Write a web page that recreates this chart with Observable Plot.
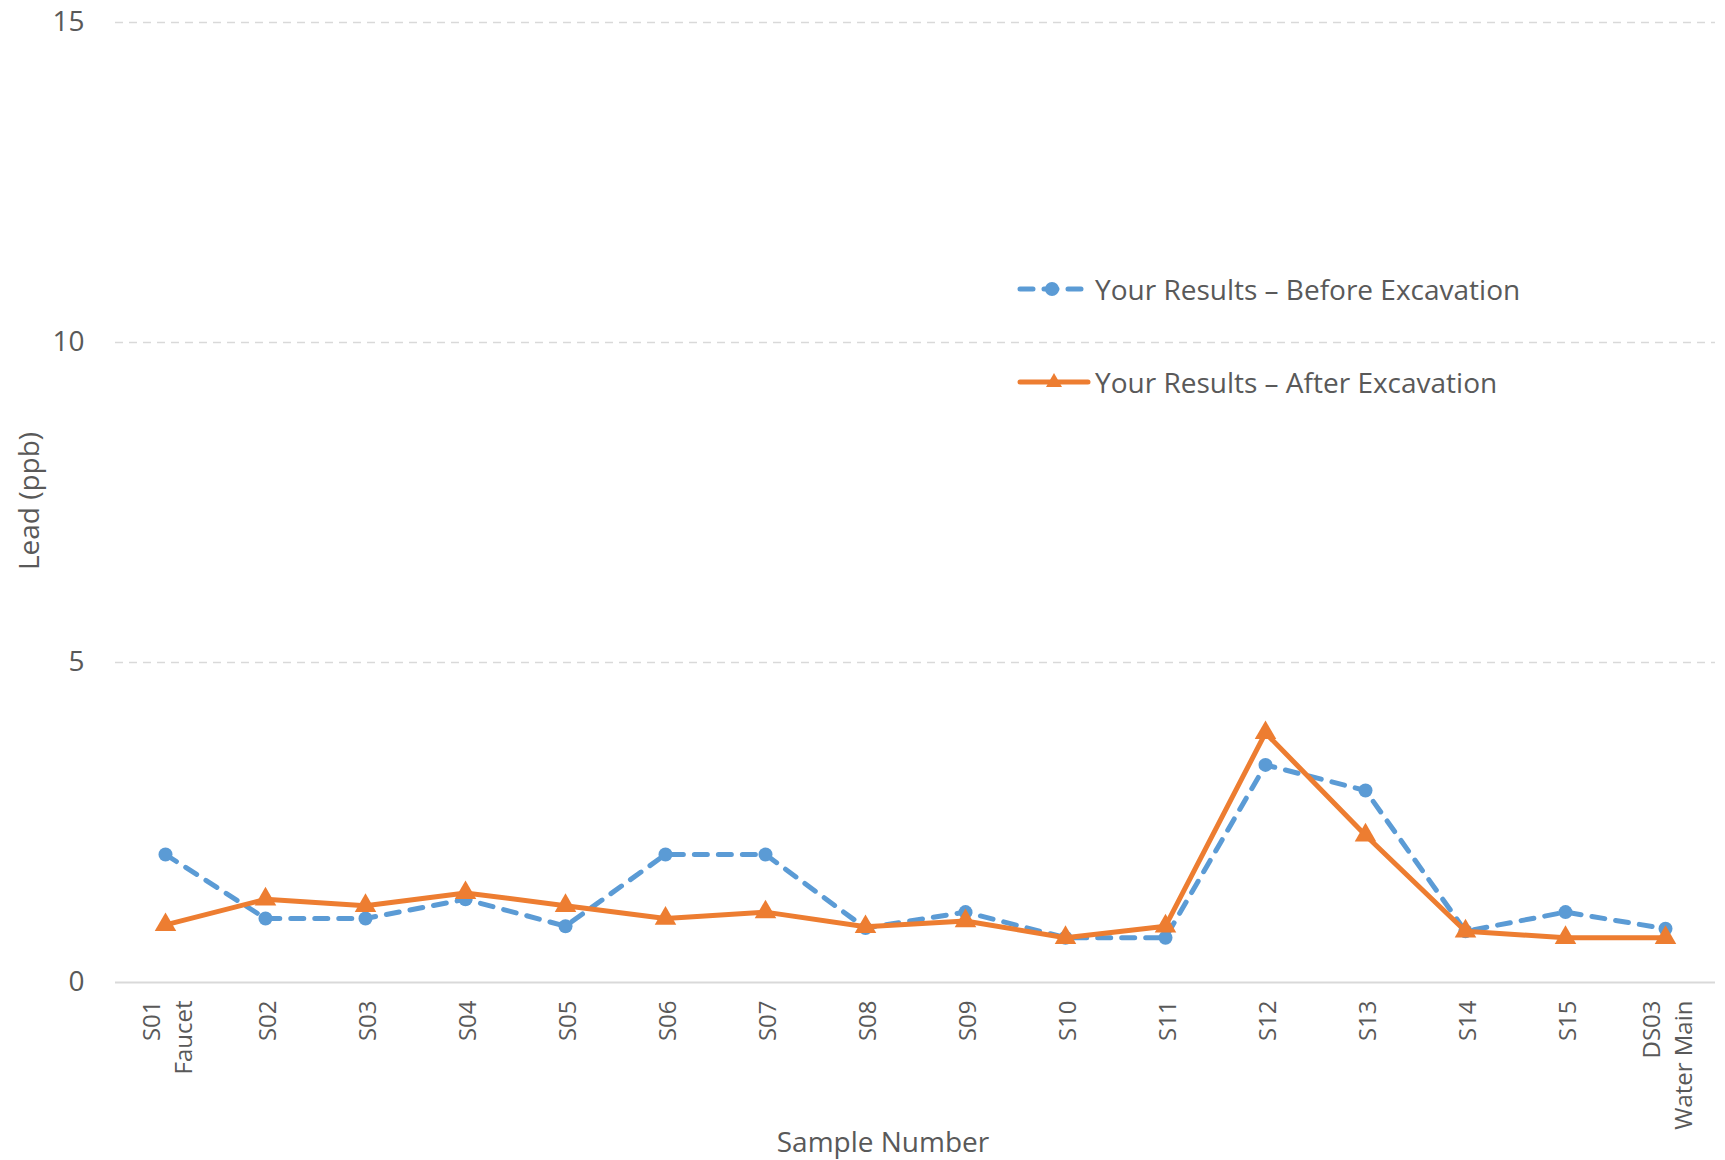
<!DOCTYPE html>
<html>
<head>
<meta charset="utf-8">
<script src="https://cdn.jsdelivr.net/npm/d3@7"></script>
<script src="https://cdn.jsdelivr.net/npm/@observablehq/plot@0.6"></script>
<style>
  html, body { margin: 0; padding: 0; background: #fff; }
  #wrap { position: relative; width: 1725px; height: 1160px; font-family: "Open Sans", sans-serif; color: #595959; }
  #wrap svg.plot { position: absolute; left: 0; top: 0; }
  .ttl { position: absolute; font-size: 28px; white-space: nowrap; line-height: 1; }
  .leg { position: absolute; left: 1017px; display: flex; align-items: center; font-size: 28px; white-space: nowrap; }
</style>
</head>
<body>
<div id="wrap"></div>
<script>
// ---- data ----
const samples = ["S01\nFaucet","S02","S03","S04","S05","S06","S07","S08","S09","S10","S11","S12","S13","S14","S15","DS03\nWater Main"];
const beforeValues = [2.0, 1.0, 1.0, 1.3, 0.88, 2.0, 2.0, 0.85, 1.1, 0.7, 0.7, 3.4, 3.0, 0.8, 1.1, 0.84];
const afterValues  = [0.9, 1.3, 1.2, 1.4, 1.2, 1.0, 1.1, 0.87, 0.96, 0.7, 0.88, 3.9, 2.3, 0.8, 0.7, 0.7];
const yTicks = [0, 5, 10, 15];
const seriesNames = ["Your Results \u2013 Before Excavation", "Your Results \u2013 After Excavation"];
const colors = ["#5B9BD5", "#ED7D31"];

const rows = samples.map((s, i) => ({sample: s, before: beforeValues[i], after: afterValues[i]}));

const chart = Plot.plot({
  width: 1725,
  height: 1160,
  marginLeft: 115,
  marginRight: 10,
  marginTop: 22,
  marginBottom: 178,
  style: {fontFamily: "Open Sans", color: "#595959", background: "#fff"},
  x: {type: "point", domain: samples, padding: 0.5},
  y: {domain: [0, 15]},
  marks: [
    Plot.gridY(yTicks.filter(d => d > 0), {stroke: "#D9D9D9", strokeOpacity: 1, strokeWidth: 1.5, strokeDasharray: "8,6"}),
    Plot.ruleY([0], {stroke: "#D9D9D9", strokeWidth: 2.2}),
    Plot.axisY(yTicks, {tickSize: 0, tickPadding: 31, fontSize: 28, fill: "#595959", tickFormat: d => String(d), label: null}),
    Plot.axisX({tickSize: 0, tickRotate: -90, tickPadding: 18, fontSize: 24, fill: "#595959", lineHeight: 1.35, label: null}),
    Plot.line(rows, {x: "sample", y: "before", stroke: colors[0], strokeWidth: 5, strokeDasharray: "13,11", strokeLinecap: "round", strokeLinejoin: "round"}),
    Plot.dot(rows, {x: "sample", y: "before", r: 7, fill: colors[0], symbol: "circle"}),
    Plot.line(rows, {x: "sample", y: "after", stroke: colors[1], strokeWidth: 5, strokeLinejoin: "round"}),
    Plot.dot(rows, {x: "sample", y: "after", r: 8, fill: colors[1], symbol: "triangle"})
  ]
});
chart.classList.add("plot");
const wrap = document.getElementById("wrap");
wrap.appendChild(chart);

// axis titles
const yt = document.createElement("div");
yt.className = "ttl";
yt.textContent = "Lead (ppb)";
yt.style.left = "28px"; yt.style.top = "501px";
yt.style.transform = "translate(-50%,-50%) rotate(-90deg)";
wrap.appendChild(yt);

const xt = document.createElement("div");
xt.className = "ttl";
xt.textContent = "Sample Number";
xt.style.left = "883px"; xt.style.top = "1141px";
xt.style.transform = "translate(-50%,-50%)";
wrap.appendChild(xt);

// legend
const legY = [289, 382];
seriesNames.forEach((name, i) => {
  const d = document.createElement("div");
  d.className = "leg";
  d.style.top = (legY[i] - 20) + "px";
  d.style.height = "40px";
  const w = 74;
  let sw;
  if (i === 0) {
    sw = `<svg width="${w}" height="24" style="display:block"><line x1="3" y1="12" x2="68" y2="12" stroke="${colors[0]}" stroke-width="5" stroke-linecap="round" stroke-dasharray="13,11"/><circle cx="35" cy="12" r="7" fill="${colors[0]}"/></svg>`;
  } else {
    sw = `<svg width="${w}" height="24" style="display:block"><line x1="3" y1="12" x2="71" y2="12" stroke="${colors[1]}" stroke-width="5" stroke-linecap="round"/><path d="M37,3 L45,17 L29,17 Z" fill="${colors[1]}"/></svg>`;
  }
  d.innerHTML = sw + `<span style="margin-left:4px">${name}</span>`;
  wrap.appendChild(d);
});
</script>
</body>
</html>
